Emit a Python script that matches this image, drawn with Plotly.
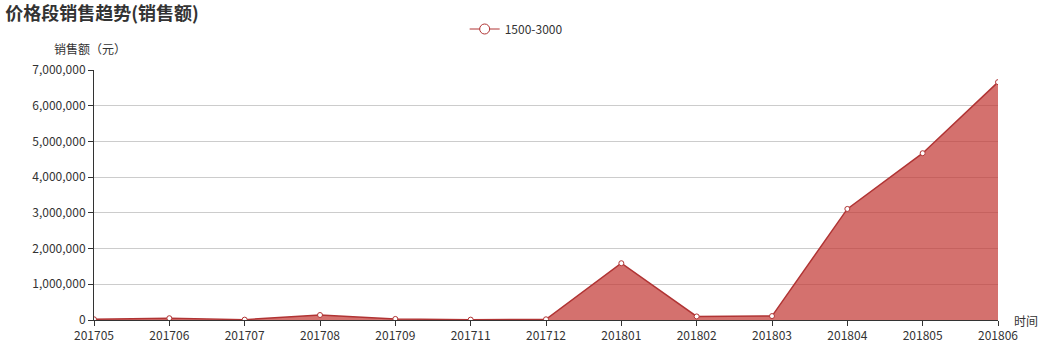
import plotly.graph_objects as go

months = ["201705", "201706", "201707", "201708", "201709", "201711", "201712",
          "201801", "201802", "201803", "201804", "201805", "201806"]
sales = [20000, 50000, 10000, 140000, 30000, 10000, 20000,
         1590000, 100000, 110000, 3110000, 4670000, 6660000]
series_name = "1500-3000"
y_ticks = [0, 1000000, 2000000, 3000000, 4000000, 5000000, 6000000, 7000000]

FONT = "Noto Sans CJK SC, Noto Sans, sans-serif"
LINE_COLOR = "#b03434"

fig = go.Figure()
# filled area (no legend entry)
fig.add_trace(go.Scatter(
    x=months, y=sales, name=series_name, showlegend=False,
    mode="none", fill="tozeroy", fillcolor="rgba(194,53,49,0.7)",
    hoverinfo="skip",
))
# line + markers
fig.add_trace(go.Scatter(
    x=months, y=sales, name=series_name, showlegend=False,
    mode="lines+markers",
    line=dict(color=LINE_COLOR, width=1.5),
    marker=dict(symbol="circle", size=5, color="#ffffff",
                line=dict(color=LINE_COLOR, width=1)),
))
# legend entry only (no data drawn)
fig.add_trace(go.Scatter(
    x=[None], y=[None], name=series_name, showlegend=True,
    mode="lines+markers",
    line=dict(color=LINE_COLOR, width=1),
    marker=dict(symbol="circle", size=10, color="#ffffff",
                line=dict(color=LINE_COLOR, width=1)),
))

fig.update_layout(
    width=1040, height=351,
    margin=dict(l=94, r=42, t=70, b=31),
    paper_bgcolor="white", plot_bgcolor="white",
    font=dict(family=FONT, size=12, color="#333"),
    title=dict(text="<b>价格段销售趋势(销售额)</b>", x=0.005, xanchor="left",
               y=0.96, yanchor="middle", yref="container",
               font=dict(size=18, color="#333", family=FONT)),
    showlegend=True,
    legend=dict(orientation="h", x=0.467, xanchor="center", y=1.164, yanchor="middle",
                font=dict(size=12, color="#333"), bgcolor="rgba(0,0,0,0)",
                itemwidth=30),
    xaxis=dict(type="category", range=[0, len(months) - 1],
               showline=True, linecolor="#333", linewidth=1,
               ticks="outside", ticklen=5, tickcolor="#333",
               showgrid=False, tickfont=dict(size=12, color="#333"),
               zeroline=False, automargin=False),
    yaxis=dict(range=[0, 7000000], tickvals=y_ticks, tickformat=",",
               showline=True, linecolor="#333", linewidth=1,
               ticks="outside", ticklen=5, tickcolor="#333",
               showgrid=True, gridcolor="#cccccc", gridwidth=1,
               tickfont=dict(size=12, color="#333"), zeroline=False,
               automargin=False),
    annotations=[
        dict(text="销售额（元）", xref="paper", yref="paper", x=-0.004, y=1.084,
             xanchor="center", yanchor="middle", showarrow=False,
             font=dict(size=12, color="#333")),
        dict(text="时间", xref="paper", yref="paper", x=1.016, y=0.0,
             xanchor="left", yanchor="middle", showarrow=False,
             font=dict(size=12, color="#333")),
    ],
)

fig.write_html("out.html")
